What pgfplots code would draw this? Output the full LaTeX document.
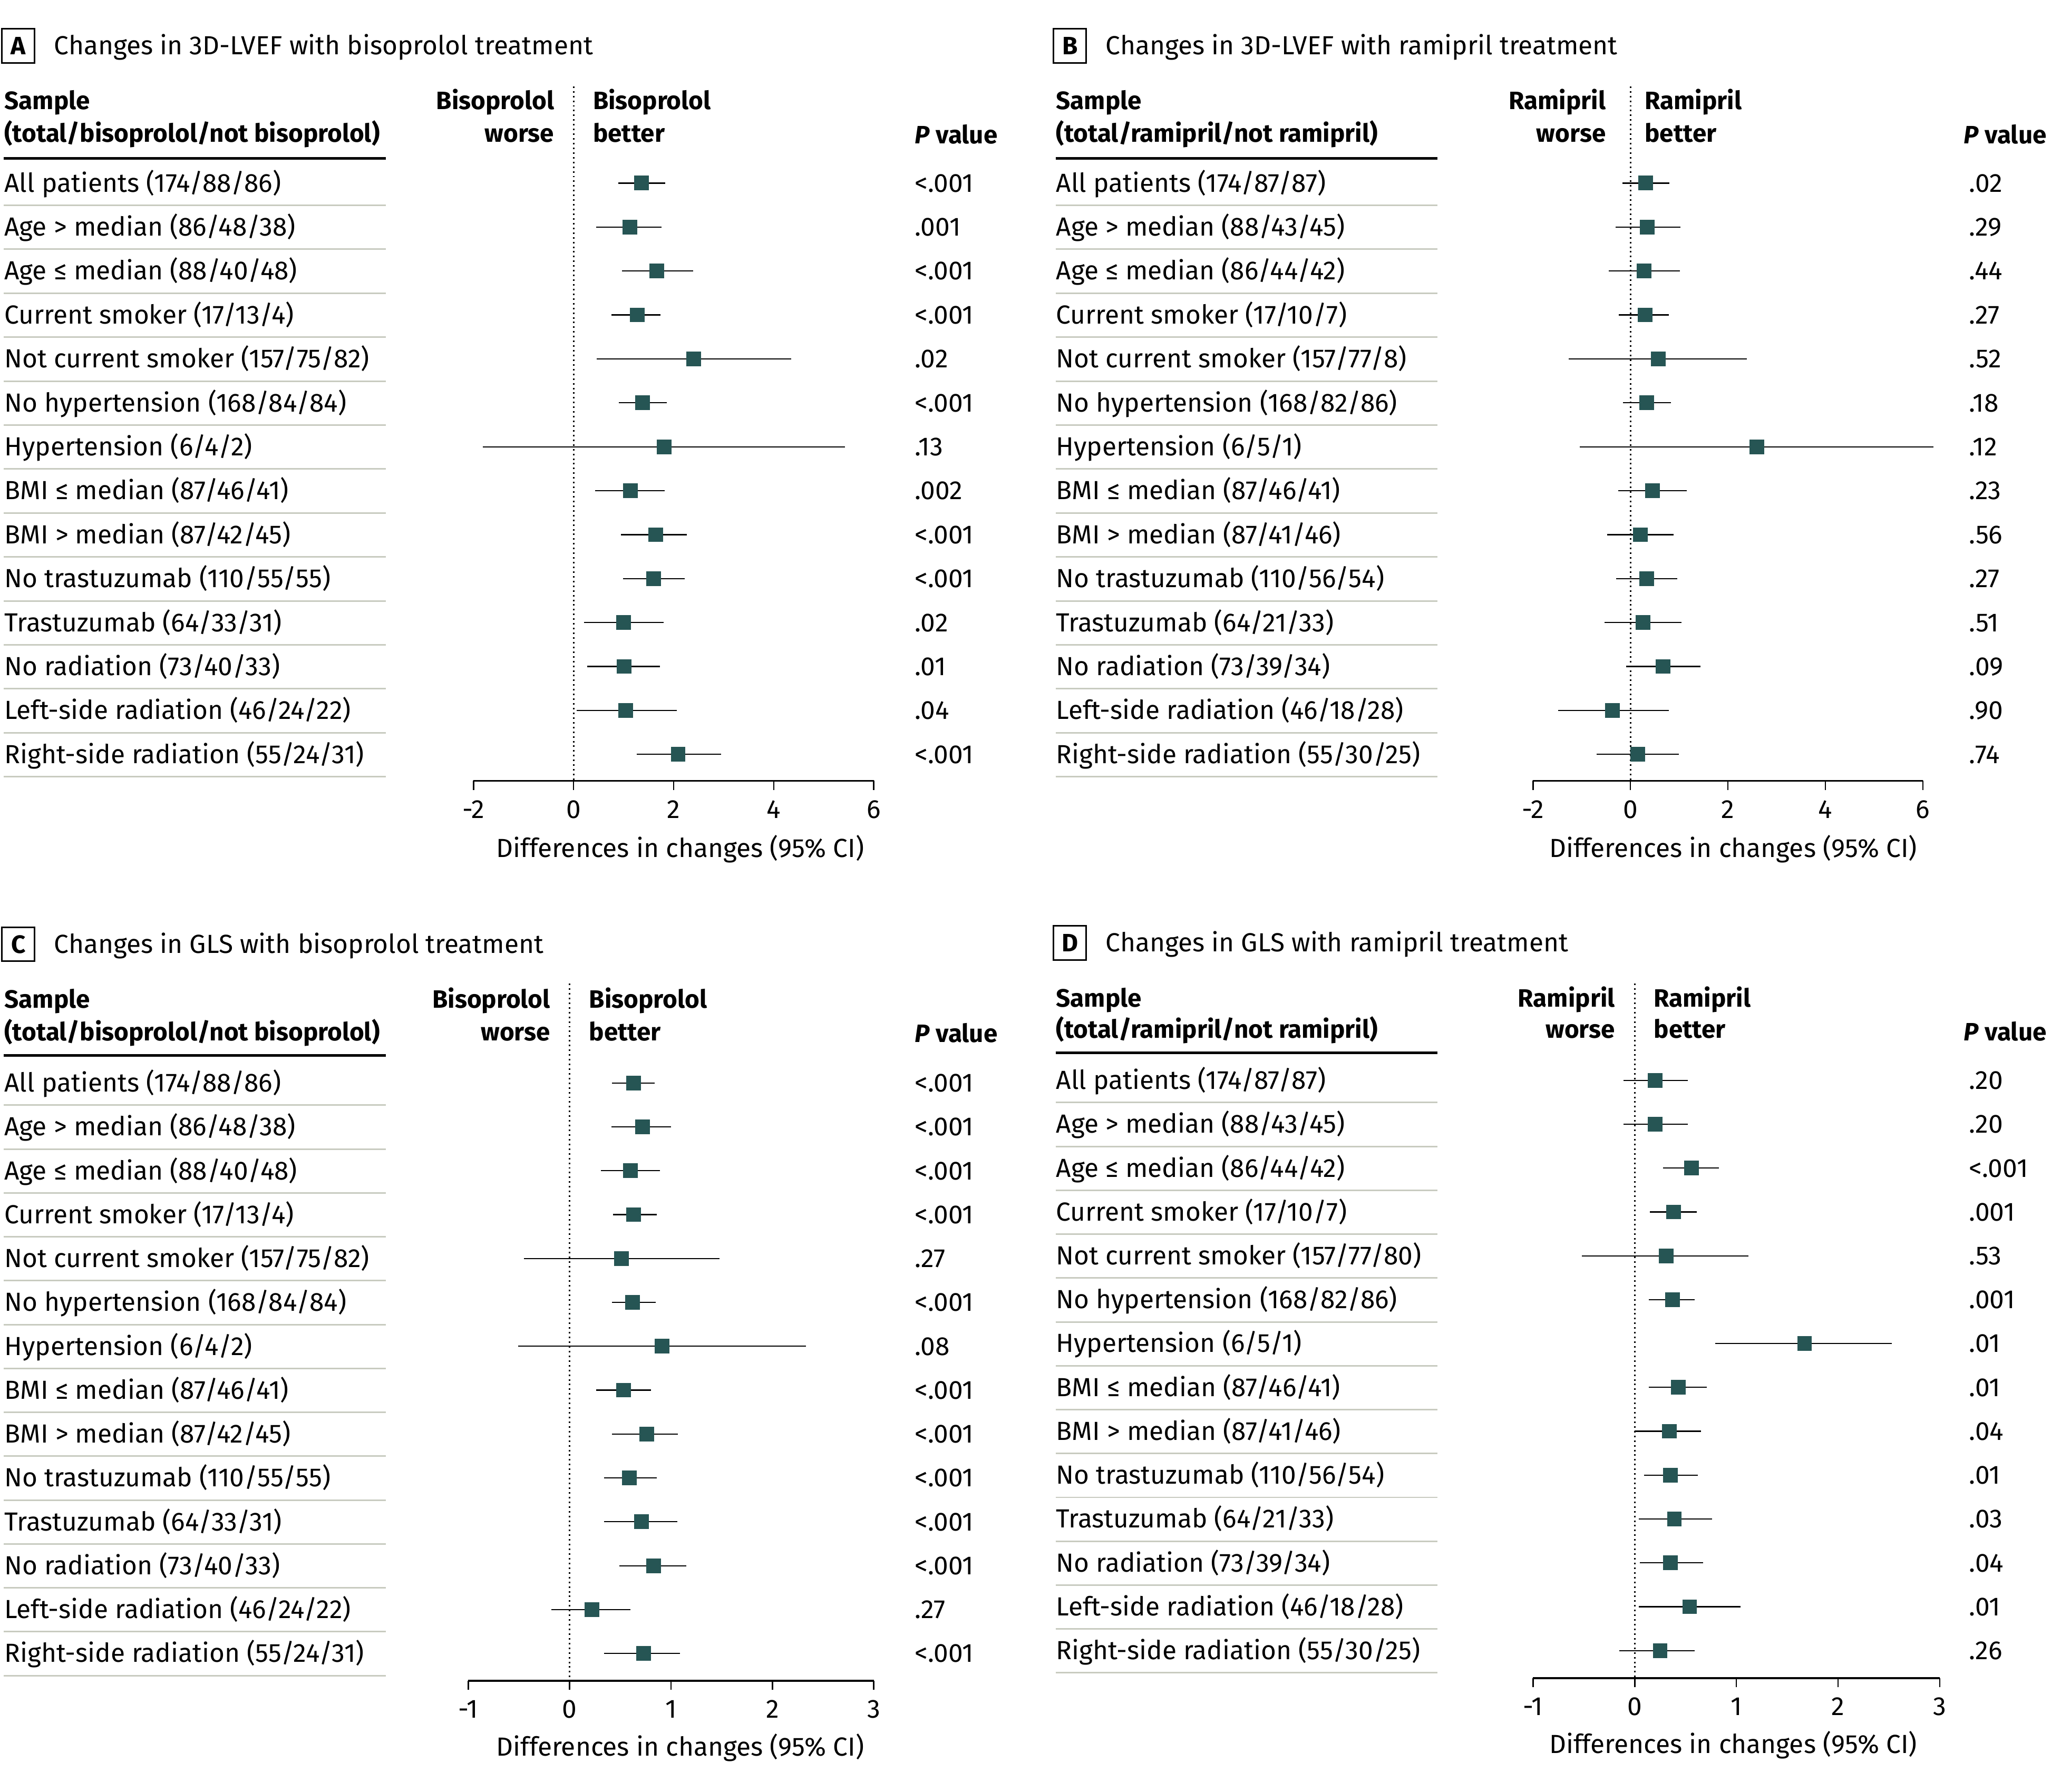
\documentclass[border=0pt]{standalone}
\usepackage{pgfplots}
\pgfplotsset{compat=1.18}
\usepackage{pgfplotstable}
\usepackage{fontspec}
\setmainfont{Fira Sans}
\definecolor{boxc}{RGB}{38,85,84}
\definecolor{sepc}{RGB}{200,203,192}

\pgfplotstableread{
r est lo hi
1 1.36 0.89 1.83
2 1.13 0.45 1.76
3 1.66 0.97 2.39
4 1.27 0.76 1.74
5 2.40 0.46 4.35
6 1.38 0.90 1.86
7 1.81 -1.81 5.42
8 1.14 0.43 1.82
9 1.64 0.95 2.26
10 1.60 0.99 2.22
11 1.00 0.21 1.80
12 1.01 0.27 1.73
13 1.04 0.06 2.06
14 2.09 1.26 2.95
}\tabA
\pgfplotstableread{
r est lo hi
1 0.31 -0.17 0.80
2 0.34 -0.31 1.03
3 0.28 -0.45 1.01
4 0.30 -0.24 0.79
5 0.57 -1.27 2.39
6 0.33 -0.15 0.83
7 2.59 -1.04 6.22
8 0.45 -0.25 1.15
9 0.20 -0.48 0.88
10 0.33 -0.29 0.96
11 0.26 -0.53 1.05
12 0.67 -0.09 1.44
13 -0.37 -1.49 0.79
14 0.15 -0.70 0.99
}\tabB
\pgfplotstableread{
r est lo hi
1 0.63 0.42 0.84
2 0.72 0.41 1.00
3 0.60 0.31 0.89
4 0.63 0.43 0.86
5 0.51 -0.45 1.48
6 0.62 0.42 0.85
7 0.91 -0.51 2.33
8 0.53 0.26 0.80
9 0.76 0.42 1.07
10 0.59 0.34 0.86
11 0.71 0.34 1.06
12 0.83 0.49 1.15
13 0.22 -0.18 0.60
14 0.73 0.34 1.09
}\tabC
\pgfplotstableread{
r est lo hi
1 0.20 -0.11 0.52
2 0.20 -0.11 0.52
3 0.56 0.28 0.83
4 0.38 0.15 0.61
5 0.31 -0.52 1.12
6 0.37 0.14 0.59
7 1.67 0.79 2.53
8 0.43 0.14 0.71
9 0.34 0.00 0.65
10 0.35 0.09 0.62
11 0.39 0.04 0.76
12 0.35 0.05 0.67
13 0.54 0.04 1.04
14 0.25 -0.15 0.59
}\tabD

\newcommand{\fs}{\fontsize{10}{12}\selectfont}
\newcommand{\fb}{\fontsize{9.6}{11.5}\selectfont\bfseries}

\pgfplotsset{fp/.style={scale only axis, anchor=south west, axis x line*=bottom, hide y axis, clip=false,
  tick align=outside, major tick length=3.5pt, xtick style={black, line width=0.5pt},
  axis line style={black, line width=0.75pt},
  tick label style={font=\fs}, xticklabel style={yshift=-0.5pt}, /pgf/number format/assume math mode=true}}

\newcommand{\forest}[1]{%
  \addplot[black, line width=0.6pt, dash pattern=on 0.6pt off 1.2pt] coordinates {(0,\pgfkeysvalueof{/pgfplots/ymax}) (0,\pgfkeysvalueof{/pgfplots/ymin})};
  \addplot[draw=none, mark=none, error bars/.cd, x dir=both, x explicit, error mark=none,
    error bar style={draw=black, solid, line width=0.45pt}]
    table[x=est, y expr=-\thisrow{r}, x error plus expr=\thisrow{hi}-\thisrow{est}, x error minus expr=\thisrow{est}-\thisrow{lo}] {#1};
  \addplot[only marks, mark=square*, mark size=2.6pt, mark options={fill=boxc, draw=boxc}]
    table[x=est, y expr=-\thisrow{r}] {#1};
}

\def\labBis{All patients (174/88/86), Age > median (86/48/38), Age ≤ median (88/40/48), Current smoker (17/13/4), Not current smoker (157/75/82), No hypertension (168/84/84), Hypertension (6/4/2), BMI ≤ median (87/46/41), BMI > median (87/42/45), No trastuzumab (110/55/55), Trastuzumab (64/33/31), No radiation (73/40/33), Left-side radiation (46/24/22), Right-side radiation (55/24/31)}
\def\labRamB{All patients (174/87/87), Age > median (88/43/45), Age ≤ median (86/44/42), Current smoker (17/10/7), Not current smoker (157/77/8), No hypertension (168/82/86), Hypertension (6/5/1), BMI ≤ median (87/46/41), BMI > median (87/41/46), No trastuzumab (110/56/54), Trastuzumab (64/21/33), No radiation (73/39/34), Left-side radiation (46/18/28), Right-side radiation (55/30/25)}
\def\labRamD{All patients (174/87/87), Age > median (88/43/45), Age ≤ median (86/44/42), Current smoker (17/10/7), Not current smoker (157/77/80), No hypertension (168/82/86), Hypertension (6/5/1), BMI ≤ median (87/46/41), BMI > median (87/41/46), No trastuzumab (110/56/54), Trastuzumab (64/21/33), No radiation (73/39/34), Left-side radiation (46/18/28), Right-side radiation (55/30/25)}
\def\pA{<.001, .001, <.001, <.001, .02, <.001, .13, .002, <.001, <.001, .02, .01, .04, <.001}
\def\pB{.02, .29, .44, .27, .52, .18, .12, .23, .56, .27, .51, .09, .90, .74}
\def\pC{<.001, <.001, <.001, <.001, .27, <.001, .08, <.001, <.001, <.001, <.001, <.001, .27, <.001}
\def\pD{.20, .20, <.001, .001, .53, .001, .01, .01, .04, .01, .03, .04, .01, .26}

% #1 x0 of panel, #2 y of first row, #3 row step, #4 labels, #5 p list, #6 p x
\newcommand{\rows}[6]{%
  \foreach \t [count=\i] in #4 {\node[anchor=mid west, inner sep=0] at (#1,{#2+1.5+#3*(\i-1)}) {\t};}
  \foreach \t [count=\i] in #5 {\node[anchor=mid west, inner sep=0] at (#6,{#2+1.5+#3*(\i-1)}) {\t};}
  \foreach \i in {1,...,14} {\draw[sepc, line width=0.6pt] (#1,{#2+17+#3*(\i-1)}) -- ({#1+292},{#2+17+#3*(\i-1)});}
}

\begin{document}
\begin{tikzpicture}[every node/.style={font=\fs}]
\path[use as bounding box] (0,0) rectangle (784pt,-685pt);

% Panel A
\begin{axis}[fp, at={(181pt,-298.5pt)}, width=153pt, height=265.5pt,
  xmin=-2, xmax=6, ymin=-14.601, ymax=1.202, xtick={-2,0,2,4,6}]
\forest{\tabA}
\end{axis}
% Panel B
\begin{axis}[fp, at={(586pt,-298.5pt)}, width=149pt, height=265.5pt,
  xmin=-2, xmax=6, ymin=-14.601, ymax=1.202, xtick={-2,0,2,4,6}]
\forest{\tabB}
\end{axis}
% Panel C
\begin{axis}[fp, at={(179pt,-642.5pt)}, width=155pt, height=266.5pt,
  xmin=-1, xmax=3, ymin=-14.62, ymax=1.265, xtick={-1,0,1,2,3}]
\forest{\tabC}
\end{axis}
% Panel D
\begin{axis}[fp, at={(586pt,-641.5pt)}, width=155.5pt, height=265.5pt,
  xmin=-1, xmax=3, ymin=-14.626, ymax=1.206, xtick={-1,0,1,2,3}]
\forest{\tabD}
\end{axis}

\begin{scope}[x=0.5pt, y=-0.5pt]
% ---------- Panel A
\node[draw, line width=0.6pt, inner sep=0, minimum width=12.5pt, minimum height=13pt, font=\fb] at (14,35) {A};
\node[anchor=mid west, inner sep=0] at (41,36.5) {Changes in 3D-LVEF with bisoprolol treatment};
\node[anchor=mid west, inner sep=0, font=\fb] at (3,78.5) {Sample};
\node[anchor=mid west, inner sep=0, font=\fb] at (3,103.5) {(total/bisoprolol/not bisoprolol)};
\draw[black, line width=1pt] (3,121) -- (295,121);
\node[anchor=mid east, inner sep=0, font=\fb] at (424,78.5) {Bisoprolol};
\node[anchor=mid east, inner sep=0, font=\fb] at (424,103.5) {worse};
\node[anchor=mid west, inner sep=0, font=\fb] at (453,78.5) {Bisoprolol};
\node[anchor=mid west, inner sep=0, font=\fb] at (453,103.5) {better};
\node[anchor=mid east, inner sep=0, font=\fb] at (763,104.5) {\textit{P} value};
\rows{3}{140}{33.6}{\labBis}{\pA}{699}
\node at (520,649) {Differences in changes (95\% CI)};

% ---------- Panel B
\node[draw, line width=0.6pt, inner sep=0, minimum width=12.5pt, minimum height=13pt, font=\fb] at (818,35) {B};
\node[anchor=mid west, inner sep=0] at (845,36.5) {Changes in 3D-LVEF with ramipril treatment};
\node[anchor=mid west, inner sep=0, font=\fb] at (807,78.5) {Sample};
\node[anchor=mid west, inner sep=0, font=\fb] at (807,103.5) {(total/ramipril/not ramipril)};
\draw[black, line width=1pt] (807,121) -- (1099,121);
\node[anchor=mid east, inner sep=0, font=\fb] at (1228,78.5) {Ramipril};
\node[anchor=mid east, inner sep=0, font=\fb] at (1228,103.5) {worse};
\node[anchor=mid west, inner sep=0, font=\fb] at (1257,78.5) {Ramipril};
\node[anchor=mid west, inner sep=0, font=\fb] at (1257,103.5) {better};
\node[anchor=mid east, inner sep=0, font=\fb] at (1565,104.5) {\textit{P} value};
\rows{807}{140}{33.6}{\labRamB}{\pB}{1505}
\node at (1325,649) {Differences in changes (95\% CI)};

% ---------- Panel C
\node[draw, line width=0.6pt, inner sep=0, minimum width=12.5pt, minimum height=13pt, font=\fb] at (14,722) {C};
\node[anchor=mid west, inner sep=0] at (41,723.5) {Changes in GLS with bisoprolol treatment};
\node[anchor=mid west, inner sep=0, font=\fb] at (3,765.5) {Sample};
\node[anchor=mid west, inner sep=0, font=\fb] at (3,790.5) {(total/bisoprolol/not bisoprolol)};
\draw[black, line width=1pt] (3,807) -- (295,807);
\node[anchor=mid east, inner sep=0, font=\fb] at (421,765.5) {Bisoprolol};
\node[anchor=mid east, inner sep=0, font=\fb] at (421,790.5) {worse};
\node[anchor=mid west, inner sep=0, font=\fb] at (450,765.5) {Bisoprolol};
\node[anchor=mid west, inner sep=0, font=\fb] at (450,790.5) {better};
\node[anchor=mid east, inner sep=0, font=\fb] at (763,791.5) {\textit{P} value};
\rows{3}{828}{33.55}{\labBis}{\pC}{699}
\node at (520,1336) {Differences in changes (95\% CI)};

% ---------- Panel D
\node[draw, line width=0.6pt, inner sep=0, minimum width=12.5pt, minimum height=13pt, font=\fb] at (818,721) {D};
\node[anchor=mid west, inner sep=0] at (845,722.5) {Changes in GLS with ramipril treatment};
\node[anchor=mid west, inner sep=0, font=\fb] at (807,764.5) {Sample};
\node[anchor=mid west, inner sep=0, font=\fb] at (807,788.5) {(total/ramipril/not ramipril)};
\draw[black, line width=1pt] (807,805) -- (1099,805);
\node[anchor=mid east, inner sep=0, font=\fb] at (1235,764.5) {Ramipril};
\node[anchor=mid east, inner sep=0, font=\fb] at (1235,788.5) {worse};
\node[anchor=mid west, inner sep=0, font=\fb] at (1264,764.5) {Ramipril};
\node[anchor=mid west, inner sep=0, font=\fb] at (1264,788.5) {better};
\node[anchor=mid east, inner sep=0, font=\fb] at (1565,790.5) {\textit{P} value};
\rows{807}{826}{33.54}{\labRamD}{\pD}{1505}
\node at (1325,1334) {Differences in changes (95\% CI)};
\end{scope}
\end{tikzpicture}
\end{document}
